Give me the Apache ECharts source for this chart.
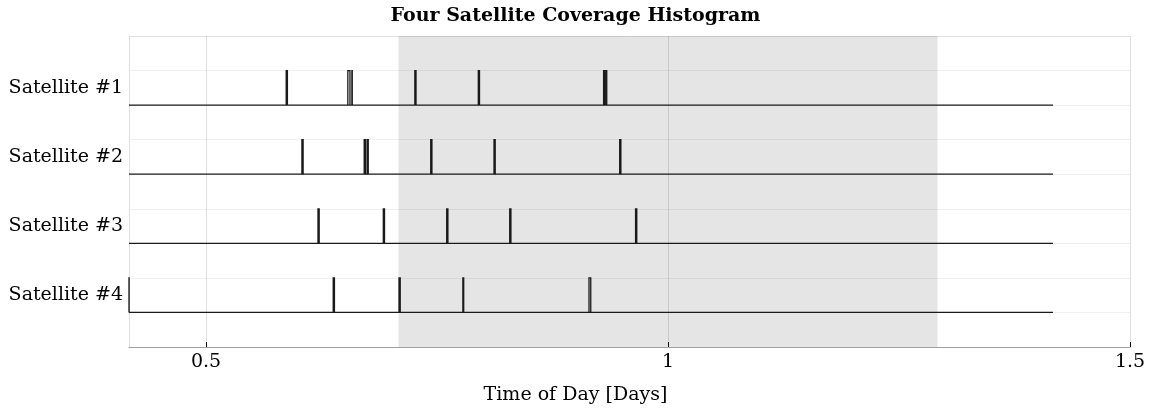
<!DOCTYPE html>
<html><head><meta charset="utf-8">
<script src="https://cdn.jsdelivr.net/npm/echarts@6/dist/echarts.min.js"></script>
<style>html,body{margin:0;padding:0;background:#fff}#c{width:1151px;height:408px}</style>
</head><body><div id="c"></div>
<script>
// ---- data ----
const dayStart = 10 / 24, dayEnd = 34 / 24;
const nightStart = 17 / 24, nightEnd = 31 / 24;
const satLabels = ['Satellite #1', 'Satellite #2', 'Satellite #3', 'Satellite #4'];
const satBases = [3.5, 2.5, 1.5, 0.5];
const labelValues = [3.75, 2.75, 1.75, 0.75];
const barHeight = 0.5;
const xTicks = [0.5, 1, 1.5];
// coverage windows [start, end] in days
const sat1Windows = [[0.5868, 0.5881], [0.6535, 0.6558], [0.6579, 0.6583], [0.7260, 0.7273], [0.7947, 0.7960], [0.9303, 0.9315], [0.9326, 0.9337]];
const sat2Windows = [[0.6038, 0.6051], [0.6712, 0.6725], [0.6743, 0.6756], [0.7432, 0.7445], [0.8117, 0.8130], [0.9477, 0.9490]];
const sat3Windows = [[0.6212, 0.6225], [0.6919, 0.6932], [0.7605, 0.7618], [0.8287, 0.8300], [0.9649, 0.9662]];
const sat4Windows = [[0.41667, 0.41680], [0.6377, 0.6390], [0.7089, 0.7102], [0.7780, 0.7789], [0.9145, 0.9164]];
const allWindows = [sat1Windows, sat2Windows, sat3Windows, sat4Windows];

const lineColor = '#1a1a1a';
const serif = "'DejaVu Serif', 'Liberation Serif', serif";
const hGrid = [];
for (let i = 0; i < 9; i++) hGrid.push('rgba(0,0,0,0.06)');
hGrid.push('rgba(0,0,0,0.12)');

const series = [{
  type: 'line', data: [], z: 1, silent: true,
  markArea: {
    silent: true,
    itemStyle: { color: '#e5e5e5' },
    data: [[{ xAxis: nightStart }, { xAxis: nightEnd }]]
  }
}];
allWindows.forEach((w, i) => {
  const b = satBases[i];
  // baseline
  series.push({
    type: 'line', name: satLabels[i], data: [[dayStart, b], [dayEnd, b]],
    showSymbol: false, symbol: 'none', z: 10, silent: true,
    lineStyle: { color: lineColor, width: 1.2 }
  });
  // coverage windows as stair pulses
  series.push({
    type: 'custom', z: 11, silent: true, clip: false,
    data: w.map(([s, e]) => [s, e, b]),
    encode: { x: [0, 1], y: 2 },
    renderItem: (params, api) => {
      const s = api.value(0), e = api.value(1), base = api.value(2);
      const pts = [api.coord([s, base]), api.coord([s, base + barHeight]),
                   api.coord([e, base + barHeight]), api.coord([e, base])];
      return { type: 'polyline', shape: { points: pts },
               style: { stroke: lineColor, lineWidth: 1.3, fill: null, lineJoin: 'miter' } };
    }
  });
});

const chart = echarts.init(document.getElementById('c'));
chart.setOption({
  animation: false,
  backgroundColor: '#fff',
  title: [
    { text: 'Four Satellite Coverage Histogram', left: 'center', top: 2,
      textStyle: { fontFamily: serif, fontWeight: 'bold', fontSize: 19, color: '#000' } },
    { text: 'Time of Day [Days]', left: 'center', top: 381,
      textStyle: { fontFamily: serif, fontWeight: 'normal', fontSize: 19, color: '#000' } }
  ],
  grid: { left: 129, right: 21, top: 36, bottom: 61, containLabel: false },
  xAxis: {
    type: 'value', min: dayStart, max: 1.5, z: 5,
    axisLine: { show: true, lineStyle: { color: '#a0a0a0', width: 1.2 } },
    axisTick: { show: true, inside: true, length: 5, customValues: xTicks, lineStyle: { color: '#000', width: 1 } },
    axisLabel: { customValues: xTicks, fontFamily: serif, fontSize: 19, color: '#000', margin: 6 },
    splitLine: { show: true, lineStyle: { color: 'rgba(0,0,0,0.12)', width: 1 } }
  },
  yAxis: {
    type: 'value', min: 0, max: 4.5, interval: 0.5, z: 5,
    axisLine: { show: true, lineStyle: { color: '#dedede', width: 1 } },
    axisTick: { show: false },
    axisLabel: {
      customValues: labelValues, fontFamily: serif, fontSize: 19, color: '#000', margin: 6,
      formatter: v => { const k = labelValues.indexOf(v); return k >= 0 ? satLabels[k] : ''; }
    },
    splitLine: { show: true, lineStyle: { color: hGrid, width: 1 } }
  },
  series: series
});
</script>
</body></html>
